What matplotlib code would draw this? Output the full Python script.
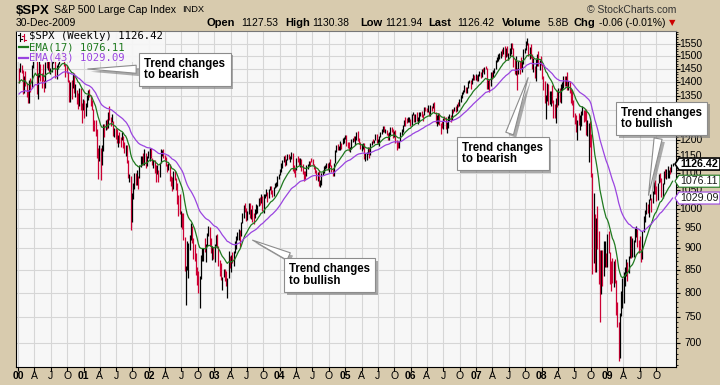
import matplotlib
matplotlib.use('Agg')
import matplotlib.pyplot as plt
import matplotlib.patheffects as pe
import matplotlib.transforms as mtrans
from matplotlib.lines import Line2D
from matplotlib.patches import Polygon, Rectangle
from matplotlib.ticker import NullFormatter
import numpy as np
import pandas as pd

plt.rcParams['font.family'] = ['Liberation Sans', 'DejaVu Sans']

# weekly $SPX bars, first week of 2000 .. last week of 2009 (one line per year)
highs = [
    1455, 1473, 1466, 1445, 1425, 1442, 1398, 1370, 1410, 1415, 1465, 1553, 1530, 1528, 1516, 1436, 1482, 1470, 1434, 1470, 1410, 1477, 1480, 1480, 1480, 1455, 1480, 1512, 1517, 1482, 1464, 1475, 1493, 1508, 1525, 1523, 1500, 1470, 1465, 1440, 1410, 1400, 1410, 1432, 1435, 1395, 1370, 1360, 1380, 1380, 1325, 1340,
    1335, 1325, 1355, 1370, 1376, 1355, 1335, 1305, 1265, 1265, 1235, 1175, 1185, 1175, 1185, 1253, 1254, 1267, 1270, 1292, 1315, 1278, 1287, 1264, 1240, 1240, 1238, 1218, 1225, 1210, 1226, 1215, 1195, 1185, 1185, 1140, 1097, 1092, 1042, 1072, 1100, 1100, 1110, 1090, 1125, 1150, 1152, 1160, 1173, 1160, 1150, 1165,
    1176, 1176, 1146, 1140, 1140, 1125, 1125, 1110, 1131, 1172, 1170, 1173, 1155, 1147, 1126, 1130, 1126, 1090, 1089, 1107, 1106, 1085, 1070, 1037, 1040, 995, 990, 990, 928, 860, 917, 913, 932, 962, 955, 925, 911, 890, 856, 848, 836, 884, 900, 901, 925, 911, 937, 955, 954, 925, 906, 903,
    911, 932, 935, 905, 872, 865, 835, 852, 851, 847, 833, 895, 881, 885, 892, 894, 919, 931, 940, 947, 946, 965, 990, 1011, 1015, 1001, 994, 1016, 1015, 999, 1009, 990, 1000, 1012, 1010, 1030, 1031, 1040, 1036, 1040, 1040, 1053, 1045, 1053, 1063, 1063, 1052, 1060, 1071, 1074, 1091, 1096,
    1112, 1131, 1140, 1150, 1155, 1143, 1158, 1158, 1151, 1163, 1159, 1125, 1115, 1145, 1150, 1145, 1146, 1143, 1127, 1105, 1106, 1123, 1128, 1137, 1137, 1146, 1141, 1126, 1120, 1108, 1104, 1108, 1080, 1100, 1110, 1120, 1125, 1130, 1130, 1132, 1142, 1125, 1115, 1131, 1168, 1185, 1188, 1183, 1197, 1191, 1207, 1211, 1217,
    1217, 1195, 1195, 1180, 1204, 1208, 1212, 1212, 1225, 1229, 1206, 1194, 1189, 1191, 1192, 1160, 1164, 1179, 1178, 1191, 1199, 1205, 1202, 1219, 1220, 1205, 1212, 1228, 1238, 1245, 1245, 1235, 1234, 1222, 1228, 1242, 1242, 1238, 1229, 1234, 1201, 1197, 1199, 1225, 1235, 1249, 1268, 1275, 1272, 1276, 1275, 1271,
    1287, 1295, 1288, 1287, 1294, 1275, 1292, 1292, 1297, 1288, 1310, 1310, 1307, 1318, 1298, 1318, 1314, 1326, 1327, 1295, 1282, 1290, 1290, 1257, 1263, 1272, 1281, 1275, 1260, 1280, 1287, 1283, 1303, 1305, 1312, 1313, 1322, 1328, 1340, 1353, 1366, 1372, 1389, 1381, 1384, 1403, 1407, 1408, 1415, 1431, 1428, 1430,
    1429, 1431, 1441, 1440, 1452, 1453, 1457, 1461, 1456, 1410, 1412, 1438, 1440, 1445, 1453, 1484, 1497, 1510, 1513, 1522, 1529, 1537, 1540, 1533, 1540, 1514, 1532, 1556, 1555, 1534, 1488, 1503, 1456, 1481, 1481, 1496, 1485, 1530, 1533, 1561, 1576, 1555, 1536, 1552, 1510, 1492, 1462, 1488, 1509, 1523, 1485, 1503,
    1471, 1424, 1406, 1355, 1396, 1395, 1368, 1367, 1389, 1334, 1321, 1341, 1370, 1380, 1378, 1395, 1400, 1422, 1425, 1425, 1440, 1406, 1404, 1375, 1370, 1336, 1290, 1285, 1265, 1290, 1285, 1297, 1313, 1300, 1300, 1303, 1267, 1256, 1264, 1220, 1100, 1044, 985, 975, 1007, 943, 896, 897, 896, 918, 918, 890,
    935, 943, 892, 870, 877, 870, 876, 828, 780, 740, 758, 804, 832, 845, 857, 875, 868, 882, 930, 930, 925, 920, 951, 956, 947, 921, 931, 898, 943, 980, 996, 1018, 1013, 1027, 1040, 1029, 1048, 1074, 1080, 1063, 1071, 1097, 1101, 1085, 1071, 1105, 1113, 1112, 1120, 1110, 1117, 1127, 1130.38,
]
lows = [
    1397, 1438, 1436, 1357, 1360, 1387, 1346, 1325, 1325, 1365, 1378, 1455, 1490, 1480, 1356, 1339, 1420, 1405, 1380, 1406, 1365, 1378, 1455, 1445, 1440, 1430, 1438, 1475, 1480, 1415, 1413, 1452, 1470, 1490, 1500, 1490, 1462, 1420, 1435, 1400, 1330, 1330, 1340, 1380, 1360, 1345, 1320, 1305, 1315, 1300, 1255, 1300,
    1274, 1280, 1310, 1335, 1345, 1315, 1300, 1230, 1230, 1215, 1145, 1082, 1135, 1081, 1125, 1165, 1210, 1232, 1235, 1240, 1268, 1245, 1260, 1213, 1210, 1203, 1190, 1180, 1190, 1180, 1200, 1175, 1160, 1150, 1130, 1085, 1073, 945, 965, 1027, 1055, 1065, 1065, 1054, 1085, 1118, 1125, 1125, 1125, 1115, 1120, 1144,
    1136, 1145, 1125, 1115, 1100, 1075, 1096, 1075, 1087, 1131, 1150, 1145, 1140, 1120, 1103, 1109, 1077, 1063, 1048, 1054, 1081, 1050, 1013, 982, 985, 952, 948, 920, 847, 775, 850, 833, 897, 920, 912, 874, 871, 839, 817, 800, 768, 830, 871, 871, 892, 869, 907, 930, 905, 889, 873, 875,
    869, 904, 900, 860, 837, 828, 806, 834, 826, 815, 789, 833, 855, 846, 865, 858, 888, 898, 920, 921, 904, 930, 963, 976, 992, 968, 970, 985, 975, 974, 965, 960, 977, 986, 990, 1008, 1010, 1016, 993, 990, 1029, 1035, 1018, 1028, 1050, 1040, 1031, 1035, 1056, 1059, 1062, 1083,
    1095, 1103, 1115, 1134, 1122, 1124, 1139, 1141, 1133, 1143, 1106, 1100, 1088, 1108, 1134, 1123, 1118, 1107, 1098, 1076, 1080, 1090, 1112, 1122, 1122, 1132, 1123, 1111, 1100, 1079, 1078, 1062, 1060, 1064, 1095, 1100, 1112, 1115, 1108, 1102, 1122, 1102, 1090, 1090, 1130, 1163, 1170, 1170, 1170, 1173, 1188, 1191, 1204,
    1183, 1175, 1167, 1163, 1171, 1195, 1198, 1184, 1200, 1199, 1188, 1171, 1165, 1172, 1142, 1137, 1139, 1157, 1146, 1155, 1186, 1192, 1190, 1200, 1191, 1188, 1183, 1210, 1220, 1228, 1225, 1222, 1216, 1201, 1201, 1218, 1225, 1206, 1211, 1192, 1168, 1176, 1174, 1198, 1218, 1228, 1245, 1247, 1255, 1258, 1259, 1247,
    1245, 1283, 1260, 1258, 1262, 1253, 1260, 1281, 1278, 1264, 1282, 1296, 1293, 1294, 1280, 1280, 1298, 1306, 1290, 1256, 1245, 1253, 1250, 1219, 1240, 1237, 1263, 1236, 1224, 1240, 1262, 1261, 1266, 1290, 1296, 1292, 1297, 1310, 1315, 1327, 1344, 1357, 1364, 1361, 1360, 1379, 1398, 1377, 1393, 1407, 1410, 1410,
    1405, 1405, 1424, 1416, 1420, 1437, 1432, 1450, 1374, 1375, 1363, 1385, 1411, 1419, 1435, 1450, 1478, 1482, 1491, 1493, 1503, 1511, 1487, 1496, 1502, 1484, 1503, 1508, 1528, 1458, 1432, 1429, 1370, 1432, 1432, 1450, 1439, 1471, 1513, 1527, 1546, 1500, 1491, 1492, 1450, 1439, 1416, 1406, 1460, 1463, 1447, 1467,
    1411, 1370, 1325, 1270, 1331, 1317, 1321, 1315, 1326, 1272, 1273, 1256, 1310, 1317, 1330, 1326, 1370, 1380, 1386, 1386, 1373, 1373, 1360, 1326, 1317, 1278, 1252, 1225, 1200, 1250, 1234, 1245, 1282, 1261, 1264, 1217, 1212, 1133, 1180, 1089, 840, 865, 845, 845, 899, 818, 741, 798, 815, 837, 857, 857,
    857, 888, 818, 804, 821, 812, 822, 754, 731, 667, 672, 751, 768, 779, 814, 836, 826, 844, 878, 878, 879, 880, 916, 927, 903, 888, 896, 869, 875, 940, 965, 987, 990, 978, 1024, 991, 1016, 1041, 1041, 1020, 1025, 1072, 1073, 1033, 1030, 1069, 1086, 1083, 1086, 1086, 1097, 1102, 1121.94,
]
closes = [
    1441, 1465, 1441, 1360, 1424, 1387, 1346, 1333, 1409, 1395, 1464, 1527, 1499, 1516, 1356, 1434, 1452, 1433, 1420, 1406, 1378, 1477, 1457, 1464, 1441, 1455, 1478, 1509, 1480, 1419, 1462, 1471, 1491, 1506, 1521, 1495, 1466, 1449, 1437, 1408, 1374, 1396, 1380, 1427, 1365, 1367, 1341, 1315, 1370, 1313, 1305, 1320,
    1298, 1318, 1342, 1354, 1349, 1315, 1301, 1246, 1234, 1233, 1150, 1139, 1160, 1128, 1183, 1242, 1234, 1266, 1245, 1291, 1277, 1260, 1264, 1215, 1225, 1224, 1190, 1215, 1210, 1205, 1214, 1190, 1161, 1185, 1134, 1085, 1093, 966, 1041, 1071, 1092, 1073, 1104, 1087, 1120, 1138, 1150, 1139, 1158, 1124, 1144, 1161,
    1172, 1146, 1128, 1133, 1122, 1096, 1104, 1090, 1131, 1164, 1166, 1149, 1148, 1122, 1111, 1126, 1077, 1074, 1054, 1106, 1084, 1067, 1028, 1007, 990, 990, 989, 921, 847, 852, 865, 908, 928, 940, 917, 893, 889, 846, 828, 800, 835, 884, 897, 900, 894, 909, 930, 936, 907, 889, 895, 875,
    909, 927, 901, 861, 856, 829, 834, 851, 841, 829, 833, 895, 864, 878, 868, 893, 898, 930, 933, 946, 933, 964, 987, 998, 995, 976, 985, 998, 993, 998, 980, 977, 990, 993, 1008, 1021, 1018, 1036, 996, 1029, 1039, 1039, 1028, 1051, 1053, 1050, 1035, 1058, 1061, 1074, 1089, 1095,
    1108, 1122, 1140, 1141, 1131, 1142, 1146, 1144, 1145, 1156, 1120, 1110, 1108, 1141, 1139, 1135, 1141, 1107, 1098, 1095, 1094, 1121, 1123, 1136, 1135, 1134, 1125, 1112, 1101, 1086, 1102, 1064, 1064, 1099, 1108, 1114, 1123, 1128, 1110, 1132, 1122, 1108, 1095, 1130, 1167, 1185, 1170, 1183, 1191, 1189, 1194, 1211, 1212,
    1186, 1184, 1167, 1171, 1203, 1206, 1201, 1211, 1222, 1201, 1190, 1172, 1172, 1191, 1142, 1152, 1157, 1171, 1155, 1190, 1198, 1197, 1201, 1217, 1191, 1194, 1212, 1228, 1234, 1234, 1226, 1231, 1220, 1205, 1218, 1241, 1238, 1215, 1228, 1195, 1187, 1180, 1198, 1220, 1234, 1248, 1268, 1265, 1259, 1267, 1268, 1248,
    1285, 1287, 1261, 1284, 1264, 1267, 1288, 1289, 1287, 1282, 1307, 1302, 1295, 1295, 1289, 1311, 1310, 1325, 1291, 1267, 1280, 1288, 1253, 1252, 1245, 1270, 1265, 1236, 1240, 1278, 1279, 1266, 1302, 1296, 1311, 1299, 1320, 1315, 1336, 1350, 1366, 1368, 1377, 1364, 1380, 1401, 1401, 1396, 1409, 1427, 1410, 1418,
    1410, 1431, 1431, 1423, 1449, 1438, 1456, 1451, 1388, 1402, 1386, 1437, 1421, 1444, 1452, 1484, 1494, 1505, 1505, 1522, 1515, 1536, 1507, 1533, 1502, 1503, 1530, 1553, 1534, 1459, 1433, 1453, 1445, 1479, 1474, 1454, 1484, 1525, 1527, 1557, 1561, 1501, 1536, 1510, 1453, 1458, 1441, 1481, 1504, 1467, 1484, 1478,
    1411, 1401, 1325, 1330, 1395, 1331, 1350, 1353, 1331, 1294, 1288, 1330, 1316, 1370, 1332, 1390, 1398, 1413, 1389, 1425, 1375, 1400, 1361, 1360, 1318, 1278, 1262, 1239, 1261, 1257, 1261, 1296, 1298, 1292, 1283, 1242, 1252, 1255, 1213, 1099, 899, 940, 877, 968, 930, 873, 800, 896, 876, 879, 888, 873,
    931, 890, 850, 832, 826, 869, 827, 770, 735, 683, 757, 769, 816, 843, 857, 870, 866, 878, 929, 882, 887, 919, 940, 946, 921, 918, 896, 879, 940, 979, 987, 1010, 1005, 1026, 1029, 1016, 1042, 1068, 1044, 1025, 1071, 1087, 1080, 1036, 1069, 1093, 1091, 1091, 1106, 1106, 1102, 1126, 1126.42,
]
# 1999 weekly closes, only used to seed the moving averages
warmup_closes = [
    1275, 1243, 1225, 1280, 1239, 1230, 1239, 1238, 1275, 1294, 1299, 1283, 1293, 1348, 1319, 1356, 1335, 1345, 1337, 1330, 1302, 1327, 1293, 1342, 1315, 1391,
    1403, 1418, 1356, 1329, 1313, 1327, 1336, 1348, 1357, 1351, 1335, 1277, 1282, 1336, 1247, 1301, 1362, 1370, 1397, 1422, 1416, 1433, 1417, 1421, 1458, 1469,
]

header_labels = ['Open', 'High', 'Low', 'Last', 'Volume', 'Chg']
header_values = ['1127.53', '1130.38', '1121.94', '1126.42', '5.8B', '-0.06 (-0.01%)']
ema17_last = 1076.11
ema43_last = 1029.09
y_ticks = list(range(700, 1551, 50))
hidden_ticks = [1250, 1300]   # covered by the last callout in the original
callout_texts = ['Trend changes\nto bearish', 'Trend changes\nto bullish',
                 'Trend changes\nto bearish', 'Trend changes\nto bullish']

assert len(highs) == len(lows) == len(closes)

dates = pd.date_range('2000-01-07', periods=len(closes), freq='W-FRI')
n0 = len(warmup_closes)
allc = pd.Series(warmup_closes + closes, dtype=float)
ema17 = allc.ewm(span=17, adjust=False).mean().values[n0:]
ema43 = allc.ewm(span=43, adjust=False).mean().values[n0:]
prev = allc.values[n0 - 1:-1]
bar_colors = np.where(np.array(closes) >= prev, 'black', '#CC0033')

W, H = 720, 385
GREEN = '#1F7A1F'
PURPLE = '#9A44E0'
PLOT_BG = '#F7F7F7'


def fx(x):
    return x / W


def fy(y):
    return 1 - y / H


fig = plt.figure(figsize=(W / 100, H / 100), dpi=100)
fig.patch.set_facecolor('#D8CBAE')
ax = fig.add_axes([16 / W, 18 / H, 660 / W, 336 / H])
ax.set_facecolor(PLOT_BG)
ax.set_yscale('log')
ax.set_ylim(656.6, 1604.5)
ax.set_xlim(pd.Timestamp('1999-12-21'), pd.Timestamp('2010-01-20'))

ax.vlines(dates, lows, highs, colors=bar_colors, linewidth=0.9, zorder=3)
ax.plot(dates, ema17, color=GREEN, lw=0.9, zorder=4)
ax.plot(dates, ema43, color=PURPLE, lw=0.9, zorder=4)

# y axis on the right
ax.set_yticks(y_ticks)
ax.set_yticks(list(range(660, 1601, 10)), minor=True)
ax.yaxis.set_major_formatter(NullFormatter())
ax.yaxis.set_minor_formatter(NullFormatter())
ax.yaxis.tick_right()
ax.tick_params(axis='y', which='major', length=3, width=0.8, direction='out')
ax.tick_params(axis='y', which='minor', length=1.5, width=0.6, direction='out')
ytrans = mtrans.offset_copy(mtrans.blended_transform_factory(ax.transAxes, ax.transData),
                            fig=fig, x=26, y=0, units='dots')
for v in y_ticks:
    if v in hidden_ticks:
        continue
    ax.text(1.0, v, str(v), transform=ytrans, ha='right', va='center',
            fontsize=7.5, clip_on=False, zorder=3)

# x axis: quarters, year labels in bold
qdates, qlabels = [], []
for yr in range(2000, 2010):
    for m, lab in zip([1, 4, 7, 10], [f'{yr % 100:02d}', 'A', 'J', 'O']):
        qdates.append(pd.Timestamp(yr, m, 1))
        qlabels.append(lab)
ax.set_xticks(qdates)
ax.xaxis.set_major_formatter(NullFormatter())
ax.tick_params(axis='x', length=3, width=0.8, direction='out')
xtrans = mtrans.offset_copy(mtrans.blended_transform_factory(ax.transData, ax.transAxes),
                            fig=fig, x=0, y=-9, units='dots')
for d, lab in zip(qdates, qlabels):
    ax.text(d, 0, lab, transform=xtrans, ha='center', va='center', fontsize=7.5,
            fontweight='bold' if lab.isdigit() else 'normal', clip_on=False)

ax.grid(True, which='major', color='#D6D6D6', lw=0.8)
ax.set_axisbelow(True)
for s in ax.spines.values():
    s.set_linewidth(0.8)
    s.set_color('black')
ax.spines['top'].set_color('#777777')

# header
fig.text(fx(16), fy(11), '$SPX', fontsize=9.5, fontweight='bold', va='center')
fig.text(fx(54), fy(10), 'S&P 500 Large Cap Index', fontsize=7.6, va='center')
fig.text(fx(182), fy(10), 'INDX', fontsize=6.7, va='center')
fig.text(fx(16), fy(23), '30-Dec-2009', fontsize=7.5, va='center')
fig.text(fx(676), fy(10), '\u00a9 StockCharts.com', fontsize=7.5, va='center', ha='right', color='#333333')
lab_x = [207, 285, 360, 428, 502, 574]
val_x = [241, 312, 385, 457, 548, 599]
for lx, vx, lab, val in zip(lab_x, val_x, header_labels, header_values):
    fig.text(fx(lx), fy(23), lab, fontsize=8, fontweight='bold', va='center')
    fig.text(fx(vx), fy(23), val, fontsize=7.5, va='center')
fig.text(fx(669), fy(23), '\u25bc', fontsize=6, va='center', color='#CC0000',
         family=['DejaVu Sans'])

# legend inside the plot, on a light panel that hides the bars behind it
ax.add_patch(Rectangle((17 / 100, (H - 62) / 100), 148 / 100, 30 / 100,
                       transform=fig.dpi_scale_trans, fc=PLOT_BG, ec='none',
                       alpha=0.92, zorder=5, clip_on=False))
mono = ['DejaVu Sans Mono']
for xs, ys, c in [([20, 20], [33, 41], 'black'), ([18, 20], [35, 35], 'black'), ([20, 22], [39, 39], 'black'),
                  ([24, 24], [34, 41], '#CC0033'), ([22, 24], [36, 36], '#CC0033'), ([24, 26], [40, 40], '#CC0033')]:
    fig.add_artist(Line2D([x / 100 for x in xs], [(H - y) / 100 for y in ys],
                          transform=fig.dpi_scale_trans, color=c, lw=0.8, zorder=2))
fig.text(fx(29), fy(36), f'$SPX (Weekly) {closes[-1]:.2f}', fontsize=7.7, family=mono, va='center')
for yy, c, txt in [(47, GREEN, f'EMA(17) {ema17_last:.2f}'), (58, PURPLE, f'EMA(43) {ema43_last:.2f}')]:
    fig.add_artist(Line2D([19 / 100, 28 / 100], [(H - yy) / 100] * 2,
                          transform=fig.dpi_scale_trans, color=c, lw=1.6, zorder=2))
    fig.text(fx(29), fy(yy), txt, fontsize=7.7, family=mono, va='center', color=c)

# value tags on the right axis
fig.canvas.draw()
for val, c, bold, tc in [(closes[-1], 'black', True, 'black'), (ema17_last, GREEN, False, '#1a1a1a'),
                         (ema43_last, PURPLE, False, '#1a1a1a')]:
    yd = ax.transData.transform((0, val))[1]
    x0, x1, hh = 675, 720, 6
    pts = [(x0, yd), (x0 + 4, yd + hh), (x1, yd + hh), (x1, yd - hh), (x0 + 4, yd - hh)]
    fig.add_artist(Polygon([(x / 100, y / 100) for x, y in pts], closed=True,
                           transform=fig.dpi_scale_trans, fc='white', ec=c,
                           lw=1.2 if bold else 0.8, zorder=5))
    fig.text(fx(699), yd / H, f'{val:.2f}', ha='center', va='center', fontsize=7.7,
             fontweight='bold' if bold else 'normal', color=tc, zorder=6)

# callouts
boxes = [(185, 69.5), (329.5, 275), (503, 153.5), (661.5, 118.5)]
tips = [(85, 69), (250, 239), (529, 75), (648, 198)]
shadow = [pe.SimplePatchShadow(offset=(2, -2), shadow_rgbFace='#777777', alpha=0.6), pe.Normal()]
for txt, (bx, by), (tx, ty) in zip(callout_texts, boxes, tips):
    ann = ax.annotate(txt, xy=(tx, H - ty), xycoords='figure pixels',
                      xytext=(bx, H - by), textcoords='figure pixels',
                      ha='center', va='center', multialignment='left',
                      fontsize=8.3, fontweight='bold', linespacing=0.95,
                      bbox=dict(boxstyle='square,pad=0.45', fc='white', ec='#8C8C8C', lw=0.8),
                      arrowprops=dict(arrowstyle='wedge,tail_width=0.7,shrink_factor=0.5',
                                      fc='white', ec='#8C8C8C', lw=0.8),
                      annotation_clip=False, clip_on=False, zorder=10)
    ann.get_bbox_patch().set_path_effects(shadow)
    ann.arrow_patch.set_path_effects(shadow)

fig.savefig('out.png', dpi=100, facecolor=fig.get_facecolor())
